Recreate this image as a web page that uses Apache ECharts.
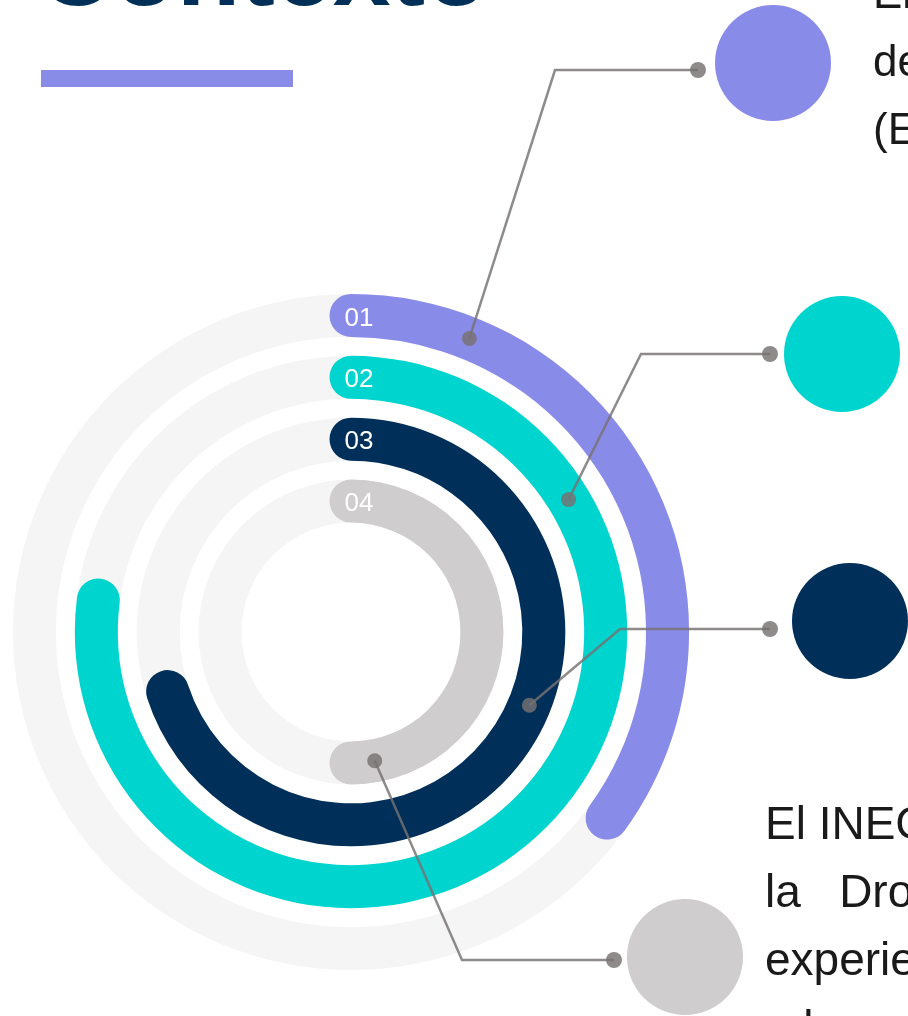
<!DOCTYPE html>
<html>
<head>
<meta charset="utf-8">
<script src="https://cdn.jsdelivr.net/npm/echarts@6/dist/echarts.min.js"></script>
<style>
    html, body { margin: 0; padding: 0; background: #ffffff; overflow: hidden; }
    #chart { width: 908px; height: 1016px; }
</style>
</head>
<body>
<div id="chart"></div>
<script>
// Ring data (outer ring first)
const steps = ['01', '02', '03', '04'];
const stepValues = [35, 77, 70, 50];
const stepColors = ['#898be8', '#00d4cf', '#002f5a', '#cfcdce'];

// Where each callout line touches its ring, on the 0-100 angle scale
const calloutAngles = [6.1, 16.3, 31.2, 47.1];

// Callout layout: elbow point, end dot, bubble centre
const calloutElbows = [[555, 70], [641, 354], [620, 629], [462, 960]];
const calloutEnds = [[698, 70], [770, 354], [770, 629], [614, 960]];
const bubbleCenters = [[773, 63], [842, 354], [850, 621], [685, 957]];

// Slide texts (cut by the right edge)
const topText = ['El', 'de', '(EN'];
const bottomText = ['El INEGI', 'la   Dron', 'experiencia', 'a la'];

const lineColor = '#767272';
const font = '"Liberation Sans", Arial, sans-serif';

const chart = echarts.init(document.getElementById('chart'));

chart.setOption({
    animation: false,
    polar: { center: [351, 632], radius: [100, 347.5] },
    angleAxis: {
        type: 'value', min: 0, max: 100, startAngle: 90, clockwise: true,
        axisLine: { show: false }, axisTick: { show: false },
        axisLabel: { show: false }, splitLine: { show: false }
    },
    radiusAxis: {
        type: 'category', data: steps, inverse: true,
        axisLine: { show: false }, axisTick: { show: false },
        axisLabel: { show: false }, splitLine: { show: false }
    },
    series: [{
        type: 'bar',
        coordinateSystem: 'polar',
        barWidth: 43,
        roundCap: true,
        silent: true,
        showBackground: true,
        backgroundStyle: { color: '#f5f5f5' },
        data: stepValues.map((v, i) => ({ value: v, itemStyle: { color: stepColors[i] } })),
        label: {
            show: true,
            position: 'insideStart',
            formatter: p => steps[p.dataIndex],
            color: '#ffffff',
            fontSize: 26,
            fontFamily: font,
            offset: [10, 3]
        }
    }]
});

// Callout lines, dots and bubbles
const graphics = [];
steps.forEach((s, i) => {
    const p = chart.convertToPixel({ seriesIndex: 0 }, [i, calloutAngles[i]]);
    graphics.push({
        type: 'polyline', z: 10, silent: true,
        shape: { points: [p, calloutElbows[i], calloutEnds[i]] },
        style: { stroke: lineColor, lineWidth: 2.5, fill: null, opacity: 0.82 }
    });
    graphics.push({
        type: 'circle', z: 10, silent: true,
        shape: { cx: p[0], cy: p[1], r: 7.5 },
        style: { fill: lineColor, opacity: 0.82 }
    });
    graphics.push({
        type: 'circle', z: 10, silent: true,
        shape: { cx: calloutEnds[i][0], cy: calloutEnds[i][1], r: 8 },
        style: { fill: lineColor, opacity: 0.82 }
    });
    graphics.push({
        type: 'circle', z: 5, silent: true,
        shape: { cx: bubbleCenters[i][0], cy: bubbleCenters[i][1], r: 58 },
        style: { fill: stepColors[i] }
    });
});

// Title (only its lower edge is on the page) and underline
graphics.push({
    type: 'text', z: 5, silent: true,
    x: 38, y: 28,
    style: { text: 'Contexto', fill: '#003057', font: 'bold 104px ' + font, verticalAlign: 'bottom' }
});
graphics.push({
    type: 'rect', z: 5, silent: true,
    shape: { x: 41, y: 70, width: 252, height: 17 },
    style: { fill: '#898ce6' }
});

topText.forEach((t, i) => {
    graphics.push({
        type: 'text', z: 5, silent: true,
        x: 873, y: 18 + i * 68,
        style: { text: t, fill: '#1a1a1a', font: '44px ' + font, verticalAlign: 'bottom' }
    });
});
bottomText.forEach((t, i) => {
    graphics.push({
        type: 'text', z: 5, silent: true,
        x: 765, y: 849 + i * 68,
        style: { text: t, fill: '#1a1a1a', font: '46px ' + font, verticalAlign: 'bottom' }
    });
});

chart.setOption({ graphic: graphics });
</script>
</body>
</html>
